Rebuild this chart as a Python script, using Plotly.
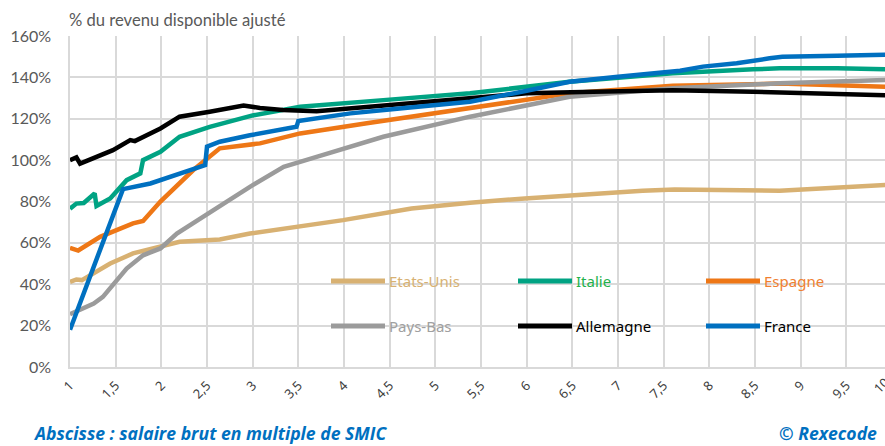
import plotly.graph_objects as go

# ---------------- data ----------------
fr_x = [1, 1.58, 1.88, 2.48, 2.5, 2.64, 2.97, 3.48, 3.5, 4.07, 4.61, 5.16, 5.38, 6.0, 6.47, 7.0, 7.68, 7.93, 8.3, 8.66, 8.8, 9.4, 10]
fr_y = [18, 86, 88.7, 97.6, 106.5, 108.9, 112, 116.1, 118.9, 122.6, 125, 127.1, 128.2, 133.5, 137.9, 140.3, 143.2, 145.2, 146.8, 149.2, 150, 150.5, 151]

de_x = [1, 1.07, 1.11, 1.47, 1.66, 1.71, 1.99, 2.2, 2.53, 2.9, 3.08, 3.33, 3.7, 4.07, 4.8, 5.38, 6, 6.73, 7.6, 8.48, 10]
de_y = [100, 101.3, 98.3, 104.8, 109.7, 109.2, 115.3, 121, 123.4, 126.4, 125.2, 124.2, 123.6, 125, 128.2, 130.4, 132.3, 133.1, 133.8, 133.1, 131.3]

it_x = [1, 1.07, 1.15, 1.22, 1.27, 1.29, 1.44, 1.62, 1.77, 1.8, 1.99, 2.2, 2.53, 3.0, 3.52, 4.43, 5.38, 6.47, 7.6, 8.48, 8.77, 9.4, 10]
it_y = [76.5, 79, 79.3, 82.3, 83.9, 77.8, 81.5, 90.3, 93.6, 100, 104, 111.3, 116.1, 121.6, 125.8, 129, 132.3, 137.9, 142, 143.9, 144.4, 144.4, 143.9]

es_x = [1, 1.09, 1.33, 1.62, 1.69, 1.8, 1.99, 2.35, 2.64, 3.08, 3.15, 3.52, 4.25, 5.38, 6.47, 7.6, 8.77, 10]
es_y = [57.6, 56.3, 62.9, 68.6, 69.4, 70.6, 80, 95.2, 105.7, 108.1, 108.9, 112.9, 117.8, 125.3, 132.3, 136, 137, 135.4]

nl_x = [1, 1.26, 1.36, 1.62, 1.8, 1.99, 2.17, 2.53, 2.79, 2.97, 3.34, 3.7, 4.43, 5.38, 6.47, 7.6, 8.77, 10]
nl_y = [25.5, 30.7, 33.9, 47.6, 54, 57.3, 64.5, 75, 82, 87.1, 96.8, 101.6, 111.3, 121, 130.6, 134.7, 137.1, 138.8]

us_x = [1, 1.07, 1.13, 1.44, 1.69, 1.99, 2.2, 2.64, 2.97, 3.99, 4.74, 5.38, 5.98, 7.27, 7.62, 8.77, 10]
us_y = [41.1, 42.3, 42, 50, 54.9, 58.1, 60.5, 61.6, 64.5, 71, 76.6, 79.4, 81.5, 85.2, 85.8, 85.2, 88.2]

x_ticks = [1, 1.5, 2, 2.5, 3, 3.5, 4, 4.5, 5, 5.5, 6, 6.5, 7, 7.5, 8, 8.5, 9, 9.5]
x_labels = ["1", "1,5", "2", "2,5", "3", "3,5", "4", "4,5", "5", "5,5", "6", "6,5", "7", "7,5", "8", "8,5", "9", "9,5"]
y_ticks = [0, 20, 40, 60, 80, 100, 120, 140, 160]
y_labels = ["0%", "20%", "40%", "60%", "80%", "100%", "120%", "140%", "160%"]

names = ["Etats-Unis", "Italie", "Espagne", "Pays-Bas", "Allemagne", "France"]
series = [(us_x, us_y), (it_x, it_y), (es_x, es_y), (nl_x, nl_y), (de_x, de_y), (fr_x, fr_y)]
line_colors = ["#D8B172", "#00A383", "#EE7716", "#9B9B9B", "#000000", "#0070C0"]
text_colors = ["#D8B172", "#22B14C", "#F08030", "#A0A0A0", "#000000", "#000000"]

# ---------------- figure ----------------
fig = go.Figure()
for (sx, sy), n, c in zip(series, names, line_colors):
    fig.add_trace(go.Scatter(x=sx, y=sy, mode="lines", name=n,
                             line=dict(color=c, width=4.5), showlegend=False))

W, H = 885, 446
L, R, T, B = 70, 0, 36, 79
pw = W - L - R
ph = H - T - B

def px(xp):
    return (xp - L) / pw

def py(yp):
    return (H - B - yp) / ph

shapes = []
annotations = []

# legend background box
shapes.append(dict(type="rect", xref="paper", yref="paper", layer="between",
                   x0=px(301), x1=px(863), y0=py(348), y1=py(257),
                   fillcolor="white", line=dict(width=0)))

col_x = [331, 518, 706]
row_y = [281, 326]
for i, n in enumerate(names):
    cx = col_x[i % 3]
    ry = row_y[i // 3]
    shapes.append(dict(type="line", xref="paper", yref="paper", layer="above",
                       x0=px(cx), x1=px(cx + 54), y0=py(ry), y1=py(ry),
                       line=dict(color=line_colors[i], width=5)))
    annotations.append(dict(text=n, xref="paper", yref="paper", x=px(cx + 56), y=py(ry),
                            xanchor="left", yanchor="middle", showarrow=False,
                            font=dict(family="Noto Sans", size=15, color=text_colors[i])))

annotations.append(dict(text="% du revenu disponible ajusté", xref="paper", yref="paper",
                        x=px(67), y=py(20), xanchor="left", yanchor="middle", showarrow=False,
                        font=dict(family="Lato", size=16.6, color="#595959")))
annotations.append(dict(text="<b><i>Abscisse : salaire brut en multiple de SMIC</i></b>",
                        xref="paper", yref="paper", x=px(31), y=py(433),
                        xanchor="left", yanchor="middle", showarrow=False,
                        font=dict(family="Open Sans", size=17.6, color="#0070C0")))
annotations.append(dict(text="<b><i>© Rexecode</i></b>",
                        xref="paper", yref="paper", x=px(879), y=py(433),
                        xanchor="right", yanchor="middle", showarrow=False,
                        font=dict(family="Open Sans", size=17.6, color="#0070C0")))
annotations.append(dict(text="10", xref="paper", yref="paper", x=px(896), y=py(371),
                        xanchor="right", yanchor="top", showarrow=False, textangle=-45,
                        font=dict(family="Noto Sans", size=13, color="#404040")))

fig.update_layout(
    width=W, height=H,
    margin=dict(l=L, r=R, t=T, b=B, autoexpand=False),
    paper_bgcolor="white", plot_bgcolor="white",
    shapes=shapes, annotations=annotations,
    showlegend=False,
)
fig.update_xaxes(range=[1, 1 + (W - L) / 91.33], tickvals=x_ticks, ticktext=x_labels,
                 tickangle=-45, showgrid=True, gridcolor="#d9d9d9", gridwidth=1.5,
                 zeroline=False, showline=True, linecolor="#d9d9d9", linewidth=1.5,
                 ticks="", ticklabelstandoff=4, automargin=False,
                 tickfont=dict(family="Noto Sans", size=13, color="#404040"))
fig.update_yaxes(range=[0, 160], tickvals=y_ticks, ticktext=y_labels,
                 showgrid=True, gridcolor="#d9d9d9", gridwidth=1.5,
                 zeroline=False, showline=True, linecolor="#d9d9d9", linewidth=1.5,
                 ticks="", ticklabelstandoff=14, automargin=False,
                 tickfont=dict(family="Lato", size=16, color="#595959"))

fig.write_html("out.html", config={"displayModeBar": False},
               post_script="document.body.style.margin='0';document.body.style.overflow='hidden';")
